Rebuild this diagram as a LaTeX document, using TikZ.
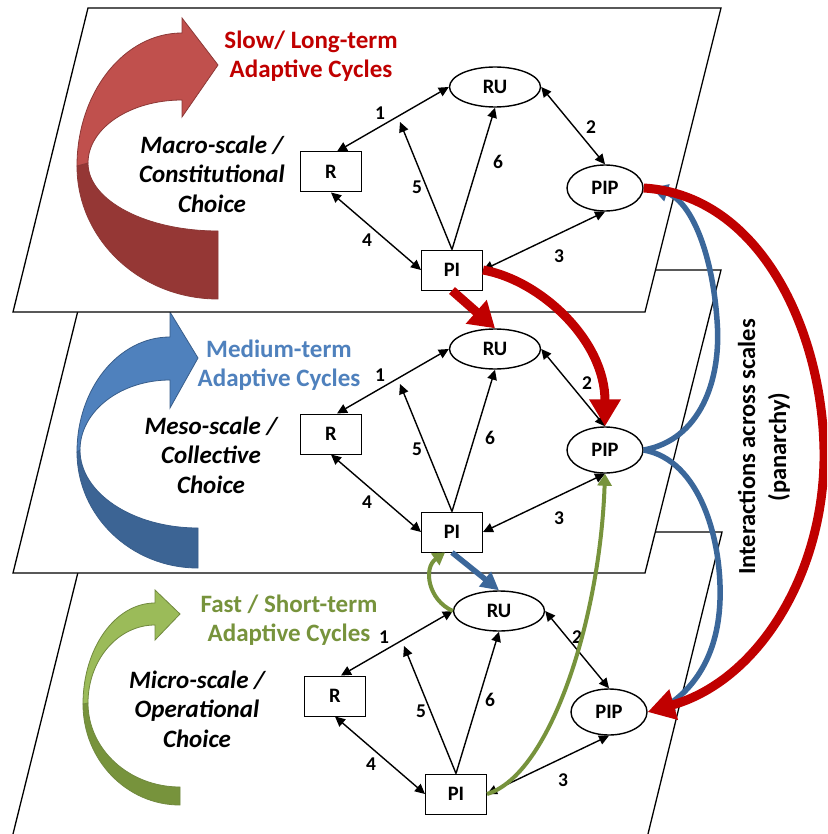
\documentclass[tikz,border=0pt]{standalone}
\usepackage{fontspec}
\setmainfont{Carlito}
\usetikzlibrary{arrows.meta,shapes.geometric}

\definecolor{redL}{HTML}{C0504D}
\definecolor{redD}{HTML}{953735}
\definecolor{redO}{HTML}{8C3836}
\definecolor{bluL}{HTML}{4F81BD}
\definecolor{bluD}{HTML}{3C6494}
\definecolor{bluO}{HTML}{385D8A}
\definecolor{grnL}{HTML}{9BBB59}
\definecolor{grnD}{HTML}{77933C}
\definecolor{grnO}{HTML}{71893F}
\definecolor{txtRed}{HTML}{C00000}
\definecolor{txtBlue}{HTML}{4F81BD}
\definecolor{txtGreen}{HTML}{77933C}
\definecolor{crossRed}{HTML}{C00000}
\definecolor{crossBlue}{HTML}{3B679A}
\definecolor{crossGreen}{HTML}{77933C}

\tikzset{
  plane/.style={draw=black, fill=white, line width=1.3pt, line join=miter},
  ovalnode/.style={ellipse, draw, fill=white, line width=1.4pt, inner sep=0pt,
    minimum width=91pt, minimum height=40pt, font=\fontsize{20.5}{20.5}\selectfont\bfseries},
  boxnode/.style={rectangle, draw, fill=white, line width=1pt, inner sep=0pt,
    minimum width=61pt, minimum height=40pt, font=\fontsize{20.5}{20.5}\selectfont\bfseries},
  link/.style={draw=black, line width=1.4pt, >={Triangle[length=10pt,width=9.5pt]}},
  num/.style={inner sep=0pt, font=\fontsize{19.5}{19.5}\selectfont\bfseries},
  title/.style={align=center, inner sep=0pt, font=\fontsize{25}{29.5}\selectfont\bfseries},
  choice/.style={align=center, inner sep=0pt, font=\fontsize{25}{29.5}\selectfont\bfseries\itshape},
  xred/.style={draw=crossRed, line width=9pt, -{Triangle[length=27pt,width=30pt]}},
  xblue/.style={draw=crossBlue, line width=5.5pt, -{Triangle[length=16pt,width=17pt]}},
  xgreen/.style={draw=crossGreen, line width=4pt, -{Triangle[length=12pt,width=14pt]}},
}

% one decision level: R, RU, PI, PIP and the six links between them
\newcommand{\scalenet}[7]{%
\begin{scope}[shift={(#2,#3)}]
  \node[ovalnode] (#1RU) at (495,87) {RU};
  \node[boxnode] (#1R) at (331,172) {R};
  \node[boxnode] (#1PI) at (452,270) {PI};
  \node[ovalnode, minimum width=76pt, minimum height=46pt] (#1PIP) at (605,188) {PIP};
  \coordinate (#1mid) at (400,122);
  \draw[link,<->] (#1RU.west) -- ([xshift=6pt]#1R.north);
  \draw[link,<->] (#1RU.east) -- (#1PIP.north);
  \draw[link,<->] (#1PI.east) -- (#1PIP.south);
  \draw[link,<->] (#1R.south) -- (#1PI.west);
  \draw[link,->] (#1PI.north) -- (#1mid);
  \draw[link,->] (#1PI.north) -- (#1RU.south);
  \node[num] (#1n1) at (380,113) {1};
  \node[num] (#1n2) at (#4,#5) {2};
  \node[num] (#1n3) at (559,256) {3};
  \node[num] (#1n4) at (367,240) {4};
  \node[num] (#1n5) at (417,187) {5};
  \node[num] (#1n6) at (#6,#7) {6};
\end{scope}}

\begin{document}
\begin{tikzpicture}[x=1pt,y=-1pt]
\useasboundingbox (0,0) rectangle (827,834);
\clip (0,0) rectangle (827,834);

% ---------- micro level ----------
\draw[plane] (88,532) -- (722,532) -- (647,838) -- (12,838) -- cycle;
\filldraw[fill=grnD, draw=grnO, line width=0.8pt]
  (83,704) arc[start angle=180, end angle=270, x radius=97pt, y radius=101pt]
  -- (180,787) arc[start angle=270, end angle=180, x radius=92pt, y radius=84pt] -- cycle;
\filldraw[fill=grnL, draw=grnO, line width=0.8pt]
  (83,704) arc[start angle=180, end angle=90, x radius=72pt, y radius=101pt]
  -- (155,590) -- (180,614) -- (155,640) -- (155,625)
  arc[start angle=90, end angle=180, x radius=67pt, y radius=78pt] -- cycle;
\node[title, text=txtGreen] (fastlbl) at (289,620) {Fast / Short-term\\Adaptive Cycles};
\node[choice] (microlbl) at (197,709) {Micro-scale /\\Operational\\Choice};
\scalenet{c}{4}{524}{573}{113}{486}{176}

% ---------- meso level ----------
\draw[plane] (88,270) -- (721,270) -- (645,573) -- (13,573) -- cycle;
\filldraw[fill=bluD, draw=bluO, line width=0.8pt]
  (77,452) arc[start angle=180, end angle=270, x radius=121pt, y radius=116pt]
  -- (198,528) arc[start angle=270, end angle=180, x radius=118pt, y radius=78pt] -- cycle;
\filldraw[fill=bluL, draw=bluO, line width=0.8pt]
  (77,452) arc[start angle=180, end angle=90, x radius=93pt, y radius=115pt]
  -- (170,312) -- (198,358) -- (170,408) -- (170,380)
  arc[start angle=90, end angle=180, x radius=90pt, y radius=70pt] -- cycle;
\node[title, text=txtBlue] (mediumlbl) at (279,365) {Medium-term\\Adaptive Cycles};
\node[choice] (mesolbl) at (211,455) {Meso-scale /\\Collective\\Choice};
\scalenet{b}{0}{262}{587}{121}{490}{176}

% ---------- macro level ----------
\draw[plane] (88,8) -- (721,8) -- (645,312) -- (13,312) -- cycle;
\filldraw[fill=redD, draw=redO, line width=0.8pt]
  (77,166) arc[start angle=180, end angle=270, x radius=141pt, y radius=133pt]
  -- (218,231) arc[start angle=270, end angle=180, x radius=130pt, y radius=68pt] -- cycle;
\filldraw[fill=redL, draw=redO, line width=0.8pt]
  (77,166) arc[start angle=180, end angle=90, x radius=105pt, y radius=133pt]
  -- (182,18) -- (218,65) -- (182,117) -- (182,100)
  arc[start angle=90, end angle=180, x radius=94pt, y radius=63pt] -- cycle;
\node[title, text=txtRed] (slowlbl) at (311,56) {Slow/ Long-term\\Adaptive Cycles};
\node[choice] (macrolbl) at (212,174) {Macro-scale /\\Constitutional\\Choice};
\scalenet{a}{0}{0}{591}{127}{498}{162}

% ---------- interactions across scales ----------
\draw[xblue] (bPIP.east) .. controls (700,440) and (722,380) .. (717,320)
  .. controls (712,250) and (690,200) .. ([xshift=8pt]aPIP.east);
\draw[xblue] (bPIP.east) .. controls (700,460) and (722,540) .. (720,600)
  .. controls (718,660) and (690,690) .. ([xshift=10pt]cPIP.east);
\draw[xblue, -{Triangle[length=18pt,width=18pt]}] (bPI.south) -- (cRU.north);

\draw[xred, -{Triangle[length=25pt,width=30pt]}] (aPI.south) -- (bRU.north);
\draw[xred] (aPI.east) .. controls (540,280) and (605,340) .. (bPIP.north);
\draw[xred] (aPIP.east) .. controls (760,195) and (822,330) .. (824,450)
  .. controls (826,570) and (760,680) .. (cPIP.east);

\draw[xgreen] (cRU.west) .. controls (428,600) and (423,568) .. ([xshift=-7pt]bPI.south);
\draw[xgreen] (cPI.east) .. controls (550,775) and (600,620) .. (bPIP.south);

\node[title, rotate=90, font=\fontsize{24.5}{31}\selectfont\bfseries] (panarchy) at (764,447)
  {Interactions across scales\\(panarchy)};
\end{tikzpicture}
\end{document}
